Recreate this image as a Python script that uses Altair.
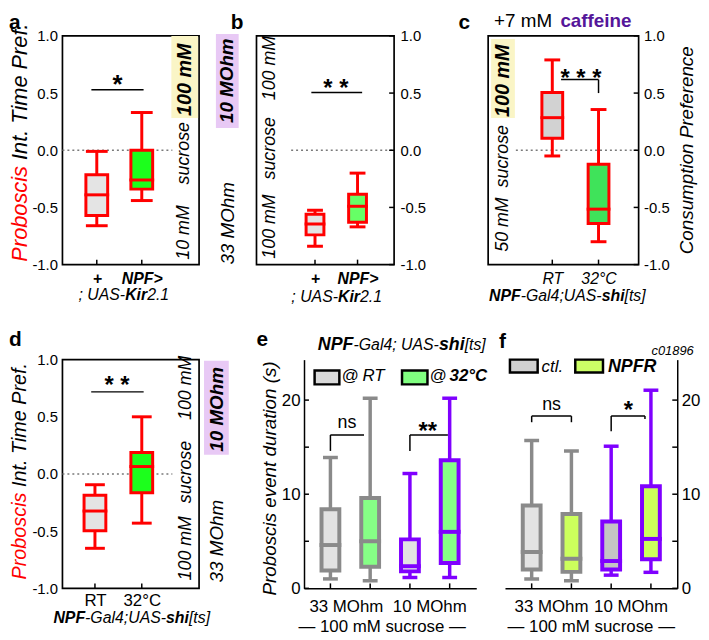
import json
import altair as alt
import pandas as pd

FONT = "Liberation Sans"
RED = "#ff0000"
GREY = "#8a8a8a"
PURPLE = "#7f00ff"
CAFFEINE = "#55169a"

# ---------------- data ----------------
pref_ticks = [-1.0, -0.5, 0.0, 0.5, 1.0]
dur_ticks = [0, 10, 20]
dur_minor = [0, 5, 10, 15, 20]

a_labels = ["+", "NPF>"]
a_lo = [-0.66, -0.44]
a_q1 = [-0.57, -0.34]
a_med = [-0.39, -0.26]
a_q3 = [-0.215, 0.0]
a_hi = [-0.01, 0.33]
a_fill = ["#e4e4e4", "#1cff1c"]
a_bracket = [(0.88, 0.53, 2.04, 0.53)]
a_star = ("*", 1.46, 0.50)

b_labels = ["+", "NPF>"]
b_lo = [-0.84, -0.67]
b_q1 = [-0.74, -0.63]
b_med = [-0.645, -0.49]
b_q3 = [-0.56, -0.385]
b_hi = [-0.525, -0.20]
b_fill = ["#e4e4e4", "#66ff66"]
b_bracket = [(0.914, 0.506, 2.108, 0.506)]
b_star = ("* *", 1.49, 0.472)

c_labels = ["RT", "32°C"]
c_lo = [-0.05, -0.80]
c_q1 = [0.105, -0.64]
c_med = [0.285, -0.515]
c_q3 = [0.505, -0.122]
c_hi = [0.79, 0.356]
c_fill = ["#d2d2d2", "#3fe35a"]
c_bracket = [(1.19, 0.618, 2.0, 0.618), (2.0, 0.618, 2.0, 0.50)]
c_star = ("* * *", 1.62, 0.561)

d_labels = ["RT", "32°C"]
d_lo = [-0.65, -0.43]
d_q1 = [-0.496, -0.165]
d_med = [-0.324, 0.065]
d_q3 = [-0.186, 0.188]
d_hi = [-0.094, 0.50]
d_fill = ["#e4e4e4", "#1cff1c"]
d_bracket = [(0.92, 0.718, 2.04, 0.718)]
d_star = ("* *", 1.47, 0.705)

group_labels = ["33 MOhm", "10 MOhm"]

e_lo = [1.0, 0.8, 1.15, 1.15]
e_q1 = [1.9, 2.3, 1.8, 2.7]
e_med = [4.6, 5.0, 2.35, 6.0]
e_q3 = [8.4, 9.6, 5.2, 13.6]
e_hi = [13.9, 20.2, 12.2, 20.2]
e_fill = ["#e2e2e2", "#86ff86", "#e2e2e2", "#86ff86"]
e_stroke = [GREY, GREY, PURPLE, PURPLE]
e_brackets = [(1, 14.6, 1, 16.3), (1, 16.3, 1.845, 16.3),
              (3, 14.6, 3, 16.3), (3, 16.3, 3.955, 16.3)]
e_marks = [("ns", 1.415, 17.0, 18, "normal"), ("**", 3.45, 15.85, 24, "bold")]

f_lo = [1.0, 0.8, 1.4, 1.7]
f_q1 = [2.0, 1.75, 2.0, 3.1]
f_med = [3.85, 3.15, 2.9, 5.25]
f_q3 = [8.8, 7.9, 7.1, 10.85]
f_hi = [15.7, 14.6, 15.1, 21.05]
f_fill = ["#e3e3e3", "#ccff5c", "#c4c4c4", "#ccff5c"]
f_stroke = [GREY, GREY, PURPLE, PURPLE]
f_brackets = [(1, 17.65, 1, 18.3), (1, 18.3, 2, 18.3), (2, 18.3, 2, 17.65),
              (3, 16.7, 3, 18.3), (3, 18.3, 3.85, 18.3), (3.85, 18.3, 3.85, 18.0)]
f_marks = [("ns", 1.5, 18.95, 18, "normal"), ("*", 3.43, 18.1, 24, "bold")]

# ---------------- helpers ----------------
ONE = pd.DataFrame({"k": [0]})

REG = {' ': 278, '(': 333, ')': 333, '*': 389, '+': 584, ',': 278, '-': 333, '.': 278,
       ':': 278, ';': 278, '>': 584, '@': 1015, '[': 278, ']': 278, '°': 400, '—': 1000,
       'A': 667, 'C': 722, 'F': 611, 'G': 778, 'I': 278, 'K': 667, 'M': 833, 'N': 722,
       'O': 778, 'P': 667, 'R': 722, 'S': 667, 'T': 611, 'U': 722,
       'a': 556, 'b': 556, 'c': 500, 'd': 556, 'e': 556, 'f': 278, 'h': 556, 'i': 222,
       'l': 222, 'm': 833, 'n': 556, 'o': 556, 'p': 556, 'r': 333, 's': 500, 't': 278,
       'u': 556, 'v': 500}
BOLD = {' ': 278, '*': 389, '+': 584, '-': 333, '.': 278, ';': 333, '>': 584, '@': 975,
        '[': 333, ']': 333, '°': 400, 'C': 722, 'F': 611, 'K': 722, 'M': 833, 'N': 722,
        'O': 778, 'P': 667, 'R': 722, 'a': 556, 'c': 556, 'e': 556, 'f': 333, 'h': 611,
        'i': 278, 'm': 889, 'n': 611, 'r': 389, 's': 556}


def tw(s, size, bold=False):
    tab = BOLD if bold else REG
    return sum(tab.get(ch, 556) for ch in s) * size / 1000.0


def T(s, x, y, size, weight="normal", style="normal", color="black", angle=0,
      align="left", baseline="alphabetic"):
    kw = dict(text=s, fontSize=size, fontWeight=weight, fontStyle=style, color=color,
              align=align, baseline=baseline, font=FONT, opacity=1)
    if angle:
        kw["angle"] = angle
    return alt.Chart(ONE).mark_text(**kw).encode(x=alt.value(x), y=alt.value(y))


def rich(segs, x, y, angle=0, center=False, baseline="alphabetic"):
    """segs: (text, size, weight, style, color)"""
    pos, placed = 0.0, []
    for text, size, weight, style, color in segs:
        bold = weight == "bold"
        core = text.strip(" ")
        lead = len(text) - len(text.lstrip(" "))
        trail = len(text) - len(text.rstrip(" "))
        pos += tw(" " * lead, size, bold)
        placed.append((core, pos, size, weight, style, color))
        pos += tw(core, size, bold) + tw(" " * trail, size, bold)
    total = pos
    out = []
    for core, p, size, weight, style, color in placed:
        if center:
            p -= total / 2.0
        if angle == 270:
            out.append(T(core, x, y - p, size, weight, style, color, 270, "left", baseline))
        else:
            out.append(T(core, x + p, y, size, weight, style, color, 0, "left", baseline))
    return out


def xdom(W, first, step):
    lo = 1 - first / step
    return [lo, lo + W / step]


def scale(dom):
    return alt.Scale(domain=dom, nice=False, zero=False)


def label_expr(labels):
    return json.dumps(labels, ensure_ascii=False) + "[round(datum.value) - 1]"


PREF_EXPR = ("datum.value < 0 ? '-' + format(-datum.value, '.1f') : "
             "format(datum.value, '.1f')")


class Panel:
    def __init__(self, xs, ys, xa, ya):
        self.xs, self.ys, self.xa, self.ya = xs, ys, xa, ya

    def X(self, f):
        return alt.X(f, type="quantitative", scale=self.xs, axis=self.xa)

    def Y(self, f):
        return alt.Y(f, type="quantitative", scale=self.ys, axis=self.ya)

    def boxes(self, lo, q1, med, q3, hi, fill, stroke, bw, cw, sw, ww):
        n = len(lo)
        df = pd.DataFrame(dict(pos=list(range(1, n + 1)), lo=lo, q1=q1, med=med, q3=q3,
                               hi=hi, fill=fill, stroke=stroke))
        base = alt.Chart(df)
        col = alt.Color("stroke:N", scale=None)
        whisk = base.mark_rule(strokeWidth=ww, opacity=1).encode(
            x=self.X("pos"), y=self.Y("lo"), y2="hi:Q", color=col)
        box = base.mark_bar(size=bw, orient="vertical", strokeWidth=sw, opacity=1).encode(
            x=self.X("pos"), y=self.Y("q1"), y2="q3:Q",
            fill=alt.Fill("fill:N", scale=None), stroke=alt.Stroke("stroke:N", scale=None))
        medl = base.mark_tick(orient="horizontal", size=bw + sw, thickness=sw,
                              opacity=1).encode(x=self.X("pos"), y=self.Y("med"), color=col)
        capl = base.mark_tick(orient="horizontal", size=cw, thickness=ww,
                              opacity=1).encode(x=self.X("pos"), y=self.Y("lo"), color=col)
        caph = base.mark_tick(orient="horizontal", size=cw, thickness=ww,
                              opacity=1).encode(x=self.X("pos"), y=self.Y("hi"), color=col)
        return [whisk, box, medl, capl, caph]

    def brackets(self, segs, width=1.5):
        df = pd.DataFrame(segs, columns=["x1", "y1", "x2", "y2"])
        return alt.Chart(df).mark_rule(color="black", strokeWidth=width, opacity=1).encode(
            x=self.X("x1"), x2="x2:Q", y=self.Y("y1"), y2="y2:Q")

    def TD(self, s, xv, yv, size, weight="normal", dx=0):
        return alt.Chart(pd.DataFrame({"x": [xv], "y": [yv]})).mark_text(
            text=s, fontSize=size, fontWeight=weight, color="black", align="center",
            baseline="alphabetic", font=FONT, dx=dx, opacity=1).encode(
            x=self.X("x"), y=self.Y("y"))

    def TX(self, s, xv, y, size, dx=0):
        return alt.Chart(pd.DataFrame({"x": [xv]})).mark_text(
            text=s, fontSize=size, color="black", align="center", baseline="alphabetic",
            font=FONT, dx=dx, opacity=1).encode(x=self.X("x"), y=alt.value(y))

    def zero_line(self, x0, x1):
        return alt.Chart(pd.DataFrame({"v": [0.0]})).mark_rule(
            color="#7a7a7a", strokeWidth=1.6, strokeDash=[2, 3], opacity=1).encode(
            y=self.Y("v"), x=alt.value(x0), x2=alt.value(x1))

    def yticks(self, vals, x0, x1):
        return alt.Chart(pd.DataFrame({"v": vals})).mark_rule(
            color="black", strokeWidth=1.5, opacity=1).encode(
            y=self.Y("v"), x=alt.value(x0), x2=alt.value(x1))

    def xticks(self, vals, H, ln=5):
        return alt.Chart(pd.DataFrame({"v": vals})).mark_rule(
            color="black", strokeWidth=1.5, opacity=1).encode(
            x=self.X("v"), y=alt.value(H - ln), y2=alt.value(H))


def prect(x0, x1, y0, y1, fill, stroke=None, sw=0):
    kw = dict(fill=fill, opacity=1)
    if stroke:
        kw.update(stroke=stroke, strokeWidth=sw)
    return alt.Chart(ONE).mark_rect(**kw).encode(
        x=alt.value(x0), x2=alt.value(x1), y=alt.value(y0), y2=alt.value(y1))


def cat_axis(labels, weight, style, size=16, pad=6):
    kw = dict(values=list(range(1, len(labels) + 1)), labelExpr=label_expr(labels),
              labelFontSize=size, labelPadding=pad, domain=False, ticks=False, grid=False,
              title=None, labelFlush=False, labelColor="black", orient="bottom")
    if weight != "normal":
        kw["labelFontWeight"] = weight
    if style != "normal":
        kw["labelFontStyle"] = style
    return alt.Axis(**kw)


def pref_axis(orient, pad):
    return alt.Axis(values=pref_ticks, labelExpr=PREF_EXPR, labelFontSize=15,
                    labelPadding=pad, domain=False, ticks=False, grid=False, title=None,
                    orient=orient, labelColor="black")


def dur_axis(orient):
    return alt.Axis(values=dur_ticks, labelFontSize=17, labelPadding=4, domain=True,
                    domainColor="black", domainWidth=1.5, ticks=False, grid=False,
                    title=None, orient=orient, labelColor="black")


X_PLAIN = alt.Axis(values=[1, 2, 3, 4], labels=False, domain=True, domainColor="black",
                   domainWidth=1.5, ticks=False, grid=False, title=None, orient="bottom")

FRAME = alt.ViewBackground(stroke="black", strokeWidth=1.7)
H = 231
YP = scale([-1, 1])
YD = scale([0, 24.3])
LETTER = 21


def kir_label(cx, base):
    return rich([("; UAS-", 16, "normal", "italic", "black"),
                 ("Kir", 16, "bold", "italic", "black"),
                 ("2.1", 16, "normal", "italic", "black")], cx, base, center=True)


def shi_label(cx, base, size=16, sep=";UAS-"):
    return rich([("NPF", size, "bold", "italic", "black"),
                 ("-Gal4" + sep, size, "normal", "italic", "black"),
                 ("shi", size, "bold", "italic", "black"),
                 ("[ts]", size, "normal", "italic", "black")], cx, base, center=True)


def proboscis_title(x, start, size):
    return rich([("Proboscis ", size, "normal", "italic", RED),
                 ("Int. Time Pref.", size, "normal", "italic", "black")],
                x, start, angle=270, baseline="middle")


# ---------------- panel a ----------------
WA = 138
P = Panel(scale(xdom(WA, 32, 49)), YP, cat_axis(a_labels, "bold", "italic"),
          pref_axis("left", 5))
la = [prect(110, 137, 0, 83, "#faf5c6"), prect(155, 178, -2, 93, "#e8c9f5"),
      P.zero_line(0, 111)]
la += P.boxes(a_lo, a_q1, a_med, a_q3, a_hi, a_fill, [RED, RED], 22, 22, 3, 3)
la += [P.xticks([1, 2], H), P.brackets(a_bracket),
       P.TD(a_star[0], a_star[1], a_star[2], 26, "bold"),
       T("a", -54, -24, LETTER, "bold", baseline="top")]
la += proboscis_title(-43, 228, 22)
la += [T("10 mM", 123, 226, 18, style="italic", angle=270, baseline="middle"),
       T("sucrose", 123, 150, 18, style="italic", angle=270, baseline="middle"),
       T("100 mM", 123.5, 81, 20, "bold", "italic", angle=270, baseline="middle"),
       T("10 MOhm", 166.5, 88, 19, "bold", "italic", angle=270, baseline="middle"),
       T("33 MOhm", 167, 231, 19, style="italic", angle=270, baseline="middle")]
la += kir_label(62, 267)
pa = alt.layer(*la).properties(width=WA, height=H, view=FRAME)

# ---------------- panel b ----------------
WB = 139
P = Panel(scale(xdom(WB, 58.3, 46.3)), YP, cat_axis(b_labels, "bold", "italic"),
          pref_axis("right", 6))
lb = [P.zero_line(35, WB)]
lb += P.boxes(b_lo, b_q1, b_med, b_q3, b_hi, b_fill, [RED, RED], 18, 16, 3, 3)
lb += [P.yticks(pref_ticks, WB - 5, WB), P.xticks([1, 2], H), P.brackets(b_bracket),
       P.TD(b_star[0], b_star[1], b_star[2], 24, "bold"),
       T("b", -26, -24, LETTER, "bold", baseline="top"),
       T("100 mM", 14, 225, 18, style="italic", angle=270, baseline="middle"),
       T("sucrose", 14, 145, 18, style="italic", angle=270, baseline="middle"),
       T("100 mM", 14, 65, 18, style="italic", angle=270, baseline="middle")]
lb += kir_label(81, 269)
pb = alt.layer(*lb).properties(width=WB, height=H, view=FRAME)

# ---------------- panel c ----------------
WC = 152
P = Panel(scale(xdom(WC, 64, 50)), YP, cat_axis(c_labels, "normal", "italic"),
          pref_axis("right", 5))
lc = [prect(3, 27, 3, 83, "#faf5c6"), P.zero_line(28, WC)]
lc += P.boxes(c_lo, c_q1, c_med, c_q3, c_hi, c_fill, [RED, RED], 21, 16, 3, 3)
lc += [P.yticks(pref_ticks, WC - 5, WC), P.xticks([1, 2], H), P.brackets(c_bracket),
       P.TD(c_star[0], c_star[1], c_star[2], 24, "bold"),
       T("c", -30, -24, LETTER, "bold", baseline="top"),
       T("+7 mM", 6, -9, 19),
       T("caffeine", 73, -9, 19, "bold", color=CAFFEINE),
       T("50 mM", 15, 218, 18, style="italic", angle=270, baseline="middle"),
       T("sucrose", 15, 153, 18, style="italic", angle=270, baseline="middle"),
       T("100 mM", 15, 82, 20, "bold", "italic", angle=270, baseline="middle"),
       T("Consumption Preference", 201, H / 2, 19, style="italic", angle=270,
         align="center", baseline="middle")]
lc += shi_label(80, 268)
pc = alt.layer(*lc).properties(width=WC, height=H, view=FRAME)

# ---------------- panel d ----------------
WD = 138
P = Panel(scale(xdom(WD, 30, 51)), YP, cat_axis(d_labels, "normal", "normal", 17, 4),
          pref_axis("left", 5))
ld = [prect(143, 168, 1, 96, "#e8c9f5"), P.zero_line(0, 111)]
ld += P.boxes(d_lo, d_q1, d_med, d_q3, d_hi, d_fill, [RED, RED], 22, 20, 3, 3)
ld += [P.xticks([1, 2], H), P.brackets(d_bracket),
       P.TD(d_star[0], d_star[1], d_star[2], 24, "bold"),
       T("d", -54, -14, LETTER, "bold")]
ld += proboscis_title(-43, 222, 20)
ld += [T("100 mM", 125, 223, 18, style="italic", angle=270, baseline="middle"),
       T("sucrose", 125, 145, 18, style="italic", angle=270, baseline="middle"),
       T("100 mM", 125, 61, 18, style="italic", angle=270, baseline="middle"),
       T("10 MOhm", 156, 93, 19, "bold", "italic", angle=270, baseline="middle"),
       T("33 MOhm", 156, 225, 19, style="italic", angle=270, baseline="middle")]
ld += shi_label(70, 266)
pd_ = alt.layer(*ld).properties(width=WD, height=H, view=FRAME)

# ---------------- panel e ----------------
WE = 174
P = Panel(scale(xdom(WE, 23, 42.6)), YD, X_PLAIN, dur_axis("left"))
le = P.boxes(e_lo, e_q1, e_med, e_q3, e_hi, e_fill, e_stroke, 18, 15, 4, 3.5)
le += [P.yticks(dur_minor, 0, 5), P.xticks([1, 2, 3, 4], H), P.brackets(e_brackets)]
for s, xv, yv, sz, wt in e_marks:
    le.append(P.TD(s, xv, yv, sz, wt))
le += [P.TX(group_labels[0], 1.5, 255, 17, dx=-4),
       P.TX(group_labels[1], 3.5, 255, 17),
       P.TX("— 100 mM sucrose —", 2.5, 275, 17, dx=-8),
       prect(10.7, 35.7, 11, 25, "#d9d9d9", "black", 2.5),
       T("@", 38, 22, 17), T("RT", 59, 22, 17, style="italic"),
       prect(99, 124.7, 11, 25, "#80ff80", "black", 2.5),
       T("@", 127, 22, 17), T("32°C", 147, 22, 17, "bold", "italic"),
       T("e", -48, -14, LETTER, "bold"),
       T("Proboscis event duration (s)", -34, 120, 19, style="italic", angle=270,
         align="center", baseline="middle")]
le += rich([("NPF", 18, "bold", "italic", "black"),
            ("-Gal4; UAS-", 16, "normal", "italic", "black"),
            ("shi", 18, "bold", "italic", "black"),
            ("[ts]", 16, "normal", "italic", "black")], 14, -10)
pe = alt.layer(*le).properties(width=WE, height=H)

# ---------------- panel f ----------------
WF = 174
P = Panel(scale(xdom(WF, 23.3, 42.6)), YD, X_PLAIN, dur_axis("right"))
lf = P.boxes(f_lo, f_q1, f_med, f_q3, f_hi, f_fill, f_stroke, 18, 15, 4, 3.5)
lf += [P.yticks(dur_minor, WF - 5, WF), P.xticks([1, 2, 3, 4], H), P.brackets(f_brackets)]
for s, xv, yv, sz, wt in f_marks:
    lf.append(P.TD(s, xv, yv, sz, wt))
lf += [P.TX(group_labels[0], 1.5, 255, 17),
       P.TX(group_labels[1], 3.5, 255, 17),
       P.TX("— 100 mM sucrose —", 2.5, 275, 17),
       prect(5, 33, 0, 13, "#d0d0d0", "black", 2.5),
       T("ctl.", 37, 12, 17, style="italic"),
       prect(71, 99, 0, 13, "#ccff66", "black", 2.5),
       T("NPFR", 104, 12, 18, "bold", "italic"),
       T("c01896", 148, -5, 13, style="italic"),
       T("f", -6, -12, LETTER, "bold")]
pf = alt.layer(*lf).properties(width=WF, height=H)


def spacer(w):
    return alt.Chart(ONE).mark_point(opacity=0).encode(
        x=alt.value(0), y=alt.value(0)).properties(width=w, height=H)


top = alt.hconcat(pa, spacer(58), pb, spacer(95), pc, spacing=0, bounds="flush")
bottom = alt.hconcat(pd_, spacer(106), pe, spacer(29), pf, spacing=0, bounds="flush")

chart = alt.vconcat(top, bottom, spacing=22, bounds="full").properties(
    padding=0
).configure(font=FONT).configure_view(stroke="transparent").configure_axis(
    labelFont=FONT, titleFont=FONT, grid=False
)

chart.save("out.html", embed_options={"renderer": "svg", "actions": False})
